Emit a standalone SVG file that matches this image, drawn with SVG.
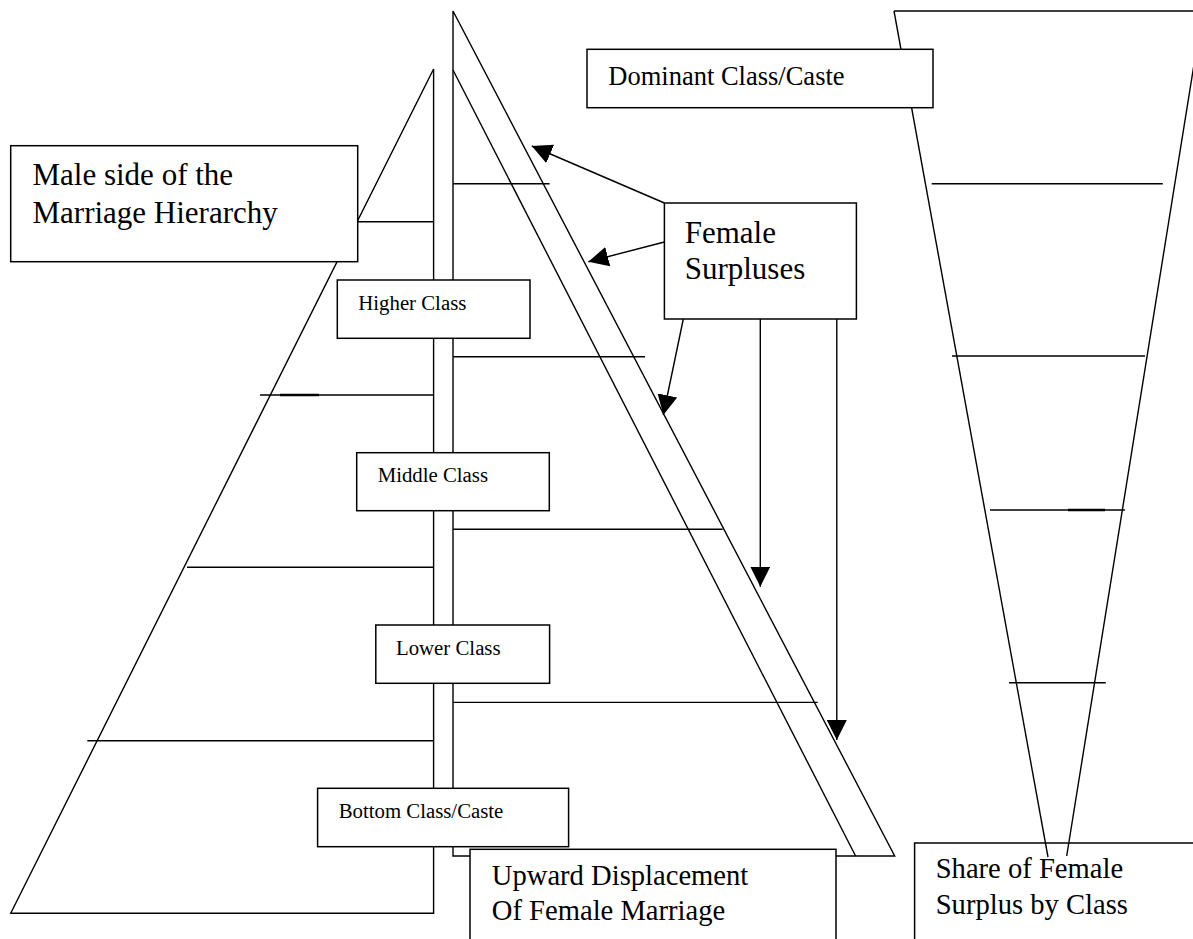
<svg xmlns="http://www.w3.org/2000/svg" width="1193" height="939" viewBox="0 0 1193 939">
<style>
.ln{stroke:#000;stroke-width:1.4;fill:none}
.bx{stroke:#000;stroke-width:1.5;fill:#fff}
.t{font-family:"Liberation Serif","Times New Roman",serif;fill:#000}
.big{font-size:31px}
.mid{font-size:28.6px}
.sm{font-size:20.8px}
.arr{stroke:#000;stroke-width:1.4;fill:none;marker-end:url(#ah)}
</style>
<defs>
<marker id="ah" markerUnits="userSpaceOnUse" markerWidth="20" markerHeight="20" viewBox="0 0 20 20" refX="20" refY="10" orient="auto">
<path d="M0,0 L20,10 L0,20 z" fill="#000"/>
</marker>
</defs>
<rect width="1193" height="939" fill="#fff"/>

<g id="pyramid-male">
<path class="ln" d="M433.6,69 L10.7,913.3 L433.6,913.3 Z"/>
<line class="ln" x1="357" y1="221.7" x2="433.6" y2="221.7"/>
<line class="ln" x1="260" y1="395" x2="433.6" y2="395"/>
<line x1="280" y1="395" x2="319" y2="395" stroke="#000" stroke-width="2.6"/>
<line class="ln" x1="187" y1="567.3" x2="433.6" y2="567.3"/>
<line class="ln" x1="87.3" y1="740.7" x2="433.6" y2="740.7"/>
</g>

<g id="pyramid-female">
<path class="ln" d="M453,11 L453,856 L894.7,856 Z"/>
<line class="ln" x1="453" y1="70" x2="855.6" y2="856"/>
<line class="ln" x1="453" y1="183.7" x2="549.6" y2="183.7"/>
<line class="ln" x1="453" y1="356.7" x2="645" y2="356.7"/>
<line class="ln" x1="453" y1="529.3" x2="722.7" y2="529.3"/>
<line class="ln" x1="453" y1="702.4" x2="817.7" y2="702.4"/>
</g>

<g id="share-box">
<rect class="bx" x="914.6" y="843" width="300" height="110"/>
<text class="t mid" x="935.7" y="878.3">Share of Female</text>
<text class="t mid" x="935.7" y="914">Surplus by Class</text>
</g>

<g id="funnel">
<line class="ln" x1="894" y1="11" x2="1200" y2="11"/>
<line class="ln" x1="894" y1="11" x2="1048" y2="857"/>
<line class="ln" x1="1202.6" y1="11" x2="1066.7" y2="856"/>
<line class="ln" x1="931.7" y1="183.7" x2="1162.8" y2="183.7"/>
<line class="ln" x1="952" y1="356" x2="1145" y2="356"/>
<line class="ln" x1="990" y1="510" x2="1125" y2="510"/>
<line x1="1068" y1="510" x2="1105" y2="510" stroke="#000" stroke-width="2.4"/>
<line class="ln" x1="1009" y1="682.7" x2="1105.8" y2="682.7"/>
</g>

<g id="male-side">
<rect class="bx" x="10.7" y="145.7" width="347" height="116"/>
<text class="t big" x="32.5" y="185">Male side of the</text>
<text class="t big" x="32.5" y="222.7">Marriage Hierarchy</text>
</g>

<g id="dominant">
<rect class="bx" x="587" y="49.3" width="346" height="58.4"/>
<text class="t" font-size="26.5" x="608.3" y="85">Dominant Class/Caste</text>
</g>

<g id="higher">
<rect class="bx" x="337.3" y="280" width="192.7" height="58.3"/>
<text class="t sm" x="358.3" y="310">Higher Class</text>
</g>

<g id="middle">
<rect class="bx" x="356.7" y="452.7" width="192.6" height="58"/>
<text class="t sm" x="377.7" y="481.7">Middle Class</text>
</g>

<g id="lower">
<rect class="bx" x="375.8" y="625" width="173.8" height="58.3"/>
<text class="t sm" x="396" y="655">Lower Class</text>
</g>

<g id="bottom">
<rect class="bx" x="317.6" y="788.3" width="251" height="58.4"/>
<text class="t sm" x="338.7" y="818.3">Bottom Class/Caste</text>
</g>

<g id="upward">
<rect class="bx" x="470" y="849.3" width="366" height="100"/>
<text class="t mid" x="491.8" y="885">Upward Displacement</text>
<text class="t mid" x="491.8" y="920">Of Female Marriage</text>
</g>

<g id="female-surpluses">
<rect class="bx" x="664.4" y="203" width="192" height="116"/>
<text class="t big" x="684.7" y="242.7">Female</text>
<text class="t big" x="684.7" y="279.3">Surpluses</text>
</g>

<g id="connectors">
<line class="arr" x1="664.4" y1="203" x2="531.8" y2="146"/>
<line class="arr" x1="664.4" y1="242" x2="588.4" y2="261.7"/>
<line class="arr" x1="683.3" y1="319" x2="663.3" y2="415"/>
<line class="arr" x1="760.3" y1="319" x2="760.3" y2="586.7"/>
<line class="arr" x1="836.8" y1="319" x2="836.8" y2="740"/>
</g>
</svg>
